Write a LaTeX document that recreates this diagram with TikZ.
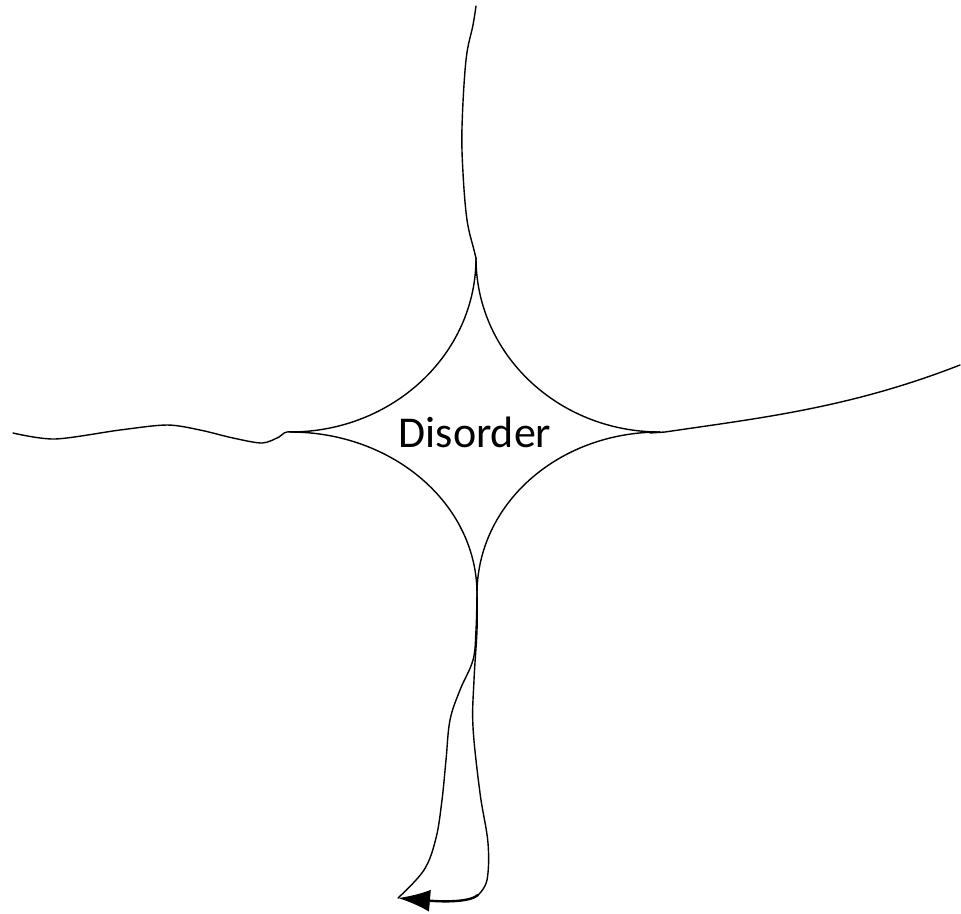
\documentclass[tikz,border=0pt]{standalone}
\usepackage{fontspec}
\setmainfont{Carlito}
\usetikzlibrary{arrows.meta}
\begin{document}
\begin{tikzpicture}[x=1pt,y=-1pt,
  curve/.style={draw=black,line width=1.4pt,line cap=round,line join=round},
  lbl/.style={font=\fontsize{44}{50}\selectfont,inner sep=0pt}]
\useasboundingbox (0,0) rectangle (961,913);
\coordinate (T) at (476,258);
\coordinate (L) at (290,432);
\coordinate (R) at (660,432);
\coordinate (B) at (477,594);
\coordinate (K) at (478,895);
\coordinate (A) at (398,898);
\node[lbl,anchor=base] (dis) at (475,447) {Disorder};
% four concave arcs
\draw[curve] (T) .. controls (476,354) and (393,432) .. (L);
\draw[curve] (T) .. controls (476,354) and (558,432) .. (R);
\draw[curve] (L) .. controls (393,432) and (477,504) .. (B);
\draw[curve] (R) .. controls (558,432) and (477,504) .. (B);
% top line
\draw[curve] plot[smooth,tension=0.6] coordinates {(476,258) (474,250) (467,220) (463,173) (462,127) (466,60) (473,25) (476,6)};
% left line
\draw[curve] plot[smooth,tension=0.5] coordinates {(310,432) (287,432) (279,437) (262,443) (233,438) (200,430) (167,425) (120,430) (55,439) (13,433)};
% right line
\draw[curve] (650,433) -- (665,432) .. controls (760,418) and (850,408) .. (960,365);
% bottom: left strand
\draw[curve] plot[smooth,tension=0.6] coordinates {(B) (476,630) (473,660) (460,690) (450,720) (446,760) (442,800) (436,838) (424,870) (398,898)};
% bottom: right strand
\draw[curve] plot[smooth,tension=0.6] coordinates {(B) (477,630) (474,680) (473,727) (480,793) (488,843) (487,880) (K)};
\draw[curve,line width=2.4pt,-{Latex[length=32pt,width=22pt]}] (K) .. controls (470,902) and (445,902) .. (A);
\end{tikzpicture}
\end{document}
